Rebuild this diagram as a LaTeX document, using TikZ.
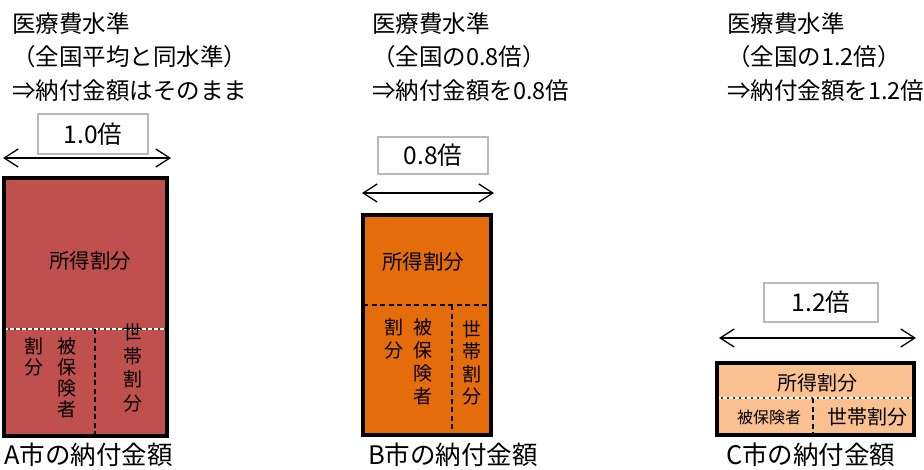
\documentclass[tikz,border=0pt]{standalone}
\usepackage{fontspec}
\setmainfont{Noto Sans CJK JP}
\usetikzlibrary{arrows.meta}
\definecolor{cityA}{HTML}{C0504D}
\definecolor{cityB}{HTML}{E46C0A}
\definecolor{cityC}{HTML}{FAC090}
\tikzset{
  frame/.style={line width=4pt,draw=black},
  ratiobox/.style={draw=gray!55,line width=1.5pt,fill=white,inner sep=0pt,font=\fontsize{24.5}{24.5}\selectfont},
  widtharrow/.style={line width=1.3pt,{Straight Barb[length=14pt,width=18pt]}-{Straight Barb[length=14pt,width=18pt]}},
  header/.style={anchor=west,inner sep=0pt,font=\fontsize{23.5}{23.5}\selectfont},
  caption/.style={anchor=west,inner sep=0pt,font=\fontsize{25.5}{25.5}\selectfont},
  part/.style={inner sep=0pt,align=center,font=\fontsize{19}{21}\selectfont},
  blackdash/.style={line width=1.5pt,dash pattern=on 5pt off 3.5pt},
  greydash/.style={line width=2pt,draw=black!75},
  whitedash/.style={line width=1.2pt,draw=white,dash pattern=on 4pt off 2pt}
}
\begin{document}
\begin{tikzpicture}[x=1pt,y=-1pt]
\useasboundingbox (0,0) rectangle (924,469);
% headers
\node[header] (hA1) at (12,24) {医療費水準};
\node[header] (hA2) at (12,57) {（全国平均と同水準）};
\node[header] (hA3) at (12,91) {⇒納付金額はそのまま};
\node[header] (hB1) at (372,24) {医療費水準};
\node[header] (hB2) at (372,57) {（全国の0.8倍）};
\node[header] (hB3) at (372,91) {⇒納付金額を0.8倍};
\node[header] (hC1) at (727,24) {医療費水準};
\node[header] (hC2) at (727,57) {（全国の1.2倍）};
\node[header] (hC3) at (727,91) {⇒納付金額を1.2倍};
% city A
\fill[cityA] (4,178) rectangle (167,436);
\draw[greydash] (4,329) -- (167,329);
\draw[whitedash] (4,329) -- (167,329);
\draw[blackdash] (95,329) -- (95,436);
\draw[frame] (4,178) rectangle (167,436);
\node[part,font=\fontsize{20.5}{20.5}\selectfont] (incA) at (90,261) {所得割分};
\node[part] (insA2) at (34,357) {割\\分};
\node[part] (insA1) at (67,378) {被\\保\\険\\者};
\node[part,font=\fontsize{19}{23.5}\selectfont] (houA) at (133,368) {世\\帯\\割\\分};
\node[ratiobox,minimum width=110pt,minimum height=40pt] (rA) at (93,134) {1.0倍};
\coordinate (aL) at (3,158);
\coordinate (aR) at (171,158);
\draw[widtharrow] (aL) -- (aR);
\node[caption] (cA) at (4,455) {A市の納付金額};
% city B
\fill[cityB] (363,215) rectangle (491,435);
\draw[blackdash] (363,305) -- (491,305);
\draw[blackdash] (452,305) -- (452,435);
\draw[frame] (363,215) rectangle (491,435);
\node[part,font=\fontsize{20.5}{20.5}\selectfont] (incB) at (423,262) {所得割分};
\node[part,font=\fontsize{19}{23}\selectfont] (insB2) at (394,339) {割\\分};
\node[part,font=\fontsize{19}{23}\selectfont] (insB1) at (423,362) {被\\保\\険\\者};
\node[part,font=\fontsize{19}{22.5}\selectfont] (houB) at (472,363) {世\\帯\\割\\分};
\node[ratiobox,minimum width=110pt,minimum height=37pt] (rB) at (433,155.5) {0.8倍};
\coordinate (bL) at (362,193);
\coordinate (bR) at (494,193);
\draw[widtharrow] (bL) -- (bR);
\node[caption] (cB) at (368,455) {B市の納付金額};
% city C
\fill[cityC] (717,363) rectangle (914,435);
\draw[greydash] (717,398) -- (914,398);
\draw[whitedash] (717,398) -- (914,398);
\draw[blackdash] (813,398) -- (813,438);
\draw[frame] (717,363) rectangle (914,435);
\node[part,font=\fontsize{20}{20}\selectfont] (incC) at (817,383) {所得割分};
\node[part,font=\fontsize{16}{16}\selectfont] (insC) at (769,417) {被保険者};
\node[part,font=\fontsize{20}{20}\selectfont] (houC) at (867,417) {世帯割分};
\node[ratiobox,minimum width=114pt,minimum height=39pt] (rC) at (821,302.5) {1.2倍};
\coordinate (cL) at (719,338);
\coordinate (cR) at (916,338);
\draw[widtharrow] (cL) -- (cR);
\node[caption] (cC) at (726,455) {C市の納付金額};
\end{tikzpicture}
\end{document}
